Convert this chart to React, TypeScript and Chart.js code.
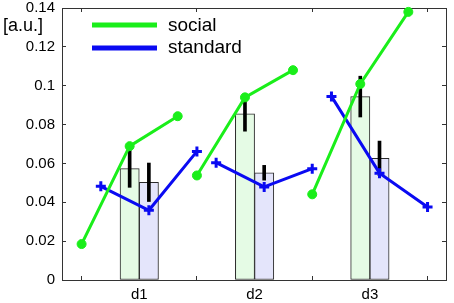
import React, { useEffect, useRef } from 'react';
import { Chart, registerables } from 'chart.js';

Chart.register(...registerables);

const categories = ['d1', 'd2', 'd3'];
const seriesNames = ['social', 'standard'];
const socialBars = [0.0573, 0.0855, 0.0944];
const standardBars = [0.0503, 0.0552, 0.0626];
const socialErr = [0.0096, 0.0089, 0.0105];
const standardErr = [0.0099, 0.0038, 0.0089];
const socialLine = [
  [0.0185, 0.0689, 0.0843],
  [0.0538, 0.094, 0.108],
  [0.0441, 0.1009, 0.138],
];
const standardLine = [
  [0.0482, 0.0359, 0.0662],
  [0.0604, 0.0479, 0.0573],
  [0.0945, 0.055, 0.0376],
];
const socialLineX = [-0.5, -1 / 12, 1 / 3];
const standardLineX = [-1 / 3, 1 / 12, 0.5];
const barOffsets = [-1 / 12, 1 / 12];
const yTicks = [0, 0.02, 0.04, 0.06, 0.08, 0.1, 0.12, 0.14];
const yTickLabels = ['0', '0.02', '0.04', '0.06', '0.08', '0.1', '0.12', '0.14'];
const yUnit = '[a.u.]';

const GREEN = '#1aee1a';
const BLUE = '#0a0af2';
const FONT = '"Liberation Sans", Arial, Helvetica, sans-serif';
const AXIS = '#333333';

export default function App() {
  const ref = useRef<HTMLCanvasElement | null>(null);

  useEffect(() => {
    if (!ref.current) return;
    const datasets: any[] = [];

    socialLine.forEach((vals, g) => {
      datasets.push({
        type: 'line',
        label: seriesNames[0],
        data: vals.map((v, j) => ({ x: g + 1 + socialLineX[j], y: v })),
        borderColor: GREEN,
        backgroundColor: GREEN,
        borderWidth: 3,
        pointStyle: 'circle',
        pointRadius: 4.5,
        pointBorderWidth: 1,
        pointBackgroundColor: GREEN,
        pointBorderColor: GREEN,
        tension: 0,
        clip: 10,
        order: 0,
      });
    });
    standardLine.forEach((vals, g) => {
      datasets.push({
        type: 'line',
        label: seriesNames[1],
        data: vals.map((v, j) => ({ x: g + 1 + standardLineX[j], y: v })),
        borderColor: BLUE,
        backgroundColor: BLUE,
        borderWidth: 3,
        pointStyle: 'cross',
        pointRadius: 5,
        pointBorderWidth: 3,
        pointBackgroundColor: BLUE,
        pointBorderColor: BLUE,
        tension: 0,
        clip: 10,
        order: 0.5,
      });
    });
    [
      [socialBars, socialErr],
      [standardBars, standardErr],
    ].forEach(([bars, errs], s) => {
      datasets.push({
        type: 'bar',
        label: seriesNames[s] + ' error',
        data: bars.map((v, i) => ({ x: i + 1 + barOffsets[s], y: [v - errs[i], v + errs[i]] })),
        backgroundColor: '#000000',
        borderWidth: 0,
        barThickness: 3,
        grouped: false,
        order: 1,
      });
    });
    [
      [socialBars, '#e5fbe5'],
      [standardBars, '#e4e5fb'],
    ].forEach(([bars, color], s) => {
      datasets.push({
        type: 'bar',
        label: seriesNames[s] + ' mean',
        data: (bars as number[]).map((v, i) => ({ x: i + 1 + barOffsets[s], y: v })),
        backgroundColor: color,
        borderColor: '#2a2a2a',
        borderWidth: 1,
        borderSkipped: false,
        grouped: false,
        categoryPercentage: 1,
        barPercentage: 1,
        order: 2,
      });
    });

    const xTickBuild = (s: any) => {
      s.ticks = categories.map((_, i) => ({ value: i + 1 }));
    };
    const yTickBuild = (s: any) => {
      s.ticks = yTicks.map((v) => ({ value: v }));
    };
    const noPad = (s: any) => {
      s.paddingTop = 0;
      s.paddingBottom = 0;
      s.paddingLeft = 0;
      s.paddingRight = 0;
    };

    const overlay = {
      id: 'overlayText',
      afterDraw(chart: any) {
        const ctx = chart.ctx;
        ctx.save();
        ctx.fillStyle = '#000';
        ctx.textBaseline = 'alphabetic';
        ctx.textAlign = 'left';
        ctx.font = `18px ${FONT}`;
        ctx.fillText(yUnit, 3, 31);
        const items = [
          { name: seriesNames[0], color: GREEN, y: 25, base: 31 },
          { name: seriesNames[1], color: BLUE, y: 48, base: 53 },
        ];
        ctx.font = `19px ${FONT}`;
        items.forEach((it) => {
          ctx.strokeStyle = it.color;
          ctx.lineWidth = 5;
          ctx.beginPath();
          ctx.moveTo(92, it.y);
          ctx.lineTo(157, it.y);
          ctx.stroke();
          ctx.fillText(it.name, 168, it.base);
        });
        ctx.restore();
      },
    };

    const tickFont = { family: FONT, size: 15 };
    const chart = new Chart(ref.current, {
      type: 'bar',
      data: { datasets },
      plugins: [overlay],
      options: {
        animation: false,
        responsive: false,
        devicePixelRatio: 1,
        layout: { padding: 0 },
        plugins: { legend: { display: false }, tooltip: { enabled: false } },
        scales: {
          x: {
            type: 'linear',
            position: 'bottom',
            min: 0.33,
            max: 3.66,
            offset: false,
            afterBuildTicks: xTickBuild,
            afterFit: (s: any) => {
              s.height = 23;
              noPad(s);
            },
            ticks: {
              callback: (_v: any, i: number) => categories[i],
              font: tickFont,
              color: '#000',
              padding: 10,
              autoSkip: false,
              maxRotation: 0,
            },
            grid: { drawOnChartArea: false, drawTicks: true, tickLength: -4, color: AXIS },
            border: { display: true, color: AXIS, width: 1 },
          },
          xTop: {
            type: 'linear',
            position: 'top',
            min: 0.33,
            max: 3.66,
            offset: false,
            afterBuildTicks: xTickBuild,
            afterFit: (s: any) => {
              s.height = 7;
              noPad(s);
            },
            ticks: { display: false },
            grid: { drawOnChartArea: false, drawTicks: true, tickLength: -4, color: AXIS },
            border: { display: true, color: AXIS, width: 1 },
          },
          y: {
            type: 'linear',
            position: 'left',
            min: 0,
            max: 0.14,
            afterBuildTicks: yTickBuild,
            afterFit: (s: any) => {
              s.width = 62;
              noPad(s);
            },
            ticks: {
              callback: (_v: any, i: number) => yTickLabels[i],
              font: tickFont,
              color: '#000',
              padding: 11,
            },
            grid: { drawOnChartArea: false, drawTicks: true, tickLength: -4, color: AXIS },
            border: { display: true, color: AXIS, width: 1 },
          },
          yRight: {
            type: 'linear',
            position: 'right',
            min: 0,
            max: 0.14,
            afterBuildTicks: yTickBuild,
            afterFit: (s: any) => {
              s.width = 4;
              noPad(s);
            },
            ticks: { display: false },
            grid: { drawOnChartArea: false, drawTicks: true, tickLength: -4, color: AXIS },
            border: { display: true, color: AXIS, width: 1 },
          },
        },
      } as any,
    });
    return () => chart.destroy();
  }, []);

  return (
    <div style={{ position: 'fixed', left: 0, top: 0, width: 454, height: 303, background: '#fff' }}>
      <canvas ref={ref} width={454} height={303} style={{ width: 454, height: 303, display: 'block' }} />
    </div>
  );
}
